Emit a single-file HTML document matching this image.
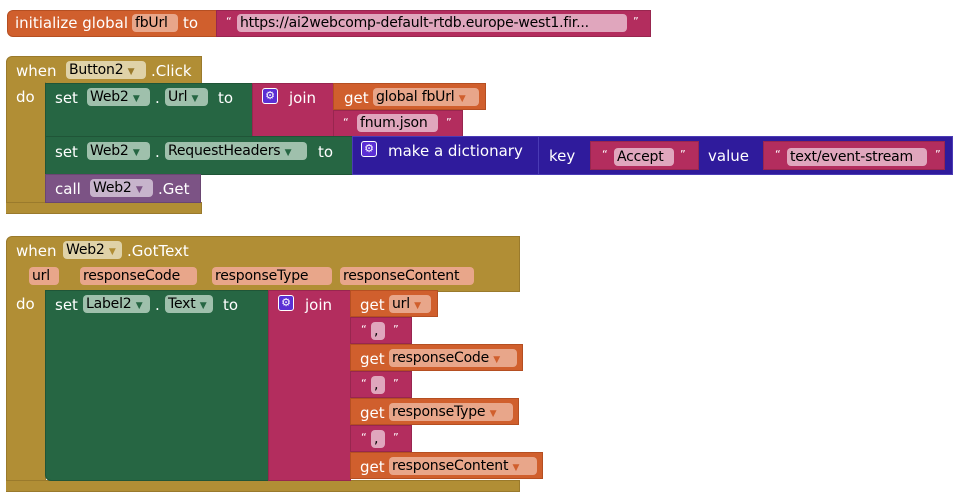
<!DOCTYPE html>
<html><head><meta charset="utf-8"><style>
body{margin:0;width:972px;height:503px;background:#fff;position:relative;overflow:hidden;font-family:"DejaVu Sans","Liberation Sans",sans-serif;font-size:15px;color:#fff}
.b{position:absolute;box-sizing:border-box}
.t{position:absolute;white-space:nowrap;line-height:16px}
.f{position:absolute;height:18px;line-height:18px;border-radius:4px;padding:0 3px;color:#000;white-space:nowrap;box-sizing:border-box;overflow:hidden;font-size:14px;letter-spacing:-0.2px}
.mu{background:#b18e35;border:1px solid #9a7a2c}
.gr{background:#266643;border:1px solid #1f5537}
.mg{background:#b32d5e;border:1px solid #98264f}
.or{background:#d05f2d;border:1px solid #b54f22}
.ind{background:#2f1b9c;border:1px solid #4a3bb5}
.pu{background:#7c5385;border:1px solid #6a4672}
.fo{background:#e8a68a}.fg{background:#9fc0ac}.fm{background:#e0a6bd}.fmu{background:#dfd2a8}
.fp{background:#c7b4cc}
.gear{position:absolute;width:16px;height:16px;background:#5b2fd4;border:1px solid #fff;border-radius:3px;box-sizing:border-box;color:#fff;font-size:11px;line-height:14px;text-align:center}
</style></head><body>
<!-- init global -->
<div class="b or" style="left:7px;top:10px;width:210px;height:27px;border-radius:6px 0 0 6px"></div>
<div class="t" style="left:15px;top:15px">initialize global</div>
<div class="f fo" style="left:132px;top:14px;width:46px">fbUrl</div>
<div class="t" style="left:183px;top:15px">to</div>
<div class="b mg" style="left:216px;top:10px;width:435px;height:27px"></div>
<div class="t" style="left:226px;top:14px;font-size:11px">“</div>
<div class="f fm" style="left:237px;top:14px;width:390px">https://ai2webcomp-default-rtdb.europe-west1.fir...</div>
<div class="t" style="left:633px;top:14px;font-size:11px">”</div>

<!-- Button2.Click -->
<div class="b mu" style="left:6px;top:56px;width:196px;height:28px;border-radius:6px 0 0 0"></div>
<div class="b mu" style="left:6px;top:82px;width:40px;height:132px;border-top:0;border-radius:0 0 0 6px"></div>
<div class="b mu" style="left:6px;top:202px;width:196px;height:12px;border-left:0"></div>
<div class="t" style="left:16px;top:63px">when</div>
<div class="f fmu" style="left:66px;top:61px;width:80px">Button2 <span style="color:#9a7a2c;font-size:9px">▼</span></div>
<div class="t" style="left:151px;top:63px">.Click</div>
<div class="t" style="left:16px;top:89px">do</div>

<div class="b gr" style="left:45px;top:83px;width:208px;height:54px"></div>
<div class="t" style="left:55px;top:90px">set</div>
<div class="f fg" style="left:87px;top:88px;width:63px">Web2 <span style="color:#266643;font-size:9px">▼</span></div>
<div class="t" style="left:155px;top:90px">.</div>
<div class="f fg" style="left:165px;top:88px;width:43px">Url <span style="color:#266643;font-size:9px">▼</span></div>
<div class="t" style="left:218px;top:90px">to</div>
<div class="b mg" style="left:252px;top:83px;width:82px;height:54px"></div>
<div class="gear" style="left:262px;top:88px">⚙</div>
<div class="t" style="left:289px;top:90px">join</div>
<div class="b or" style="left:333px;top:83px;width:153px;height:27px"></div>
<div class="t" style="left:344px;top:90px">get</div>
<div class="f fo" style="left:373px;top:88px;width:106px">global fbUrl <span style="color:#d05f2d;font-size:9px">▼</span></div>
<div class="b mg" style="left:333px;top:110px;width:130px;height:27px"></div>
<div class="t" style="left:343px;top:115px;font-size:11px">“</div>
<div class="f fm" style="left:357px;top:114px;width:81px">fnum.json</div>
<div class="t" style="left:446px;top:115px;font-size:11px">”</div>

<div class="b gr" style="left:45px;top:136px;width:308px;height:39px"></div>
<div class="t" style="left:55px;top:144px">set</div>
<div class="f fg" style="left:87px;top:142px;width:63px">Web2 <span style="color:#266643;font-size:9px">▼</span></div>
<div class="t" style="left:155px;top:144px">.</div>
<div class="f fg" style="left:165px;top:142px;width:142px">RequestHeaders <span style="color:#266643;font-size:9px">▼</span></div>
<div class="t" style="left:318px;top:144px">to</div>
<div class="b ind" style="left:352px;top:136px;width:187px;height:39px"></div>
<div class="gear" style="left:361px;top:141px">⚙</div>
<div class="t" style="left:388px;top:143px">make a dictionary</div>
<div class="b ind" style="left:538px;top:136px;width:415px;height:39px"></div>
<div class="t" style="left:549px;top:148px">key</div>
<div class="b mg" style="left:590px;top:141px;width:109px;height:29px"></div>
<div class="t" style="left:602px;top:147px;font-size:11px">“</div>
<div class="f fm" style="left:614px;top:148px;width:60px">Accept</div>
<div class="t" style="left:680px;top:147px;font-size:11px">”</div>
<div class="t" style="left:708px;top:148px">value</div>
<div class="b mg" style="left:763px;top:141px;width:182px;height:29px"></div>
<div class="t" style="left:775px;top:147px;font-size:11px">“</div>
<div class="f fm" style="left:787px;top:148px;width:140px">text/event-stream</div>
<div class="t" style="left:935px;top:147px;font-size:11px">”</div>

<div class="b pu" style="left:45px;top:174px;width:156px;height:29px"></div>
<div class="t" style="left:55px;top:181px">call</div>
<div class="f fp" style="left:90px;top:179px;width:63px">Web2 <span style="color:#7c5385;font-size:9px">▼</span></div>
<div class="t" style="left:158px;top:181px">.Get</div>

<!-- Web2.GotText -->
<div class="b mu" style="left:6px;top:236px;width:514px;height:56px;border-radius:6px 0 0 0"></div>
<div class="b mu" style="left:6px;top:290px;width:40px;height:202px;border-top:0;border-radius:0 0 0 6px"></div>
<div class="b mu" style="left:6px;top:480px;width:514px;height:12px;border-left:0"></div>
<div class="t" style="left:16px;top:243px">when</div>
<div class="f fmu" style="left:63px;top:241px;width:59px">Web2 <span style="color:#b18e35;font-size:9px">▼</span></div>
<div class="t" style="left:127px;top:243px">.GotText</div>
<div class="f fo" style="left:29px;top:267px;width:30px">url</div>
<div class="f fo" style="left:80px;top:267px;width:117px">responseCode</div>
<div class="f fo" style="left:212px;top:267px;width:120px">responseType</div>
<div class="f fo" style="left:340px;top:267px;width:134px">responseContent</div>
<div class="t" style="left:16px;top:296px">do</div>

<div class="b gr" style="left:45px;top:290px;width:224px;height:191px;border-radius:0 0 0 6px"></div>
<div class="t" style="left:55px;top:297px">set</div>
<div class="f fg" style="left:83px;top:295px;width:67px">Label2 <span style="color:#266643;font-size:9px">▼</span></div>
<div class="t" style="left:155px;top:297px">.</div>
<div class="f fg" style="left:165px;top:295px;width:48px">Text <span style="color:#266643;font-size:9px">▼</span></div>
<div class="t" style="left:223px;top:297px">to</div>
<div class="b mg" style="left:268px;top:290px;width:83px;height:191px"></div>
<div class="gear" style="left:278px;top:295px">⚙</div>
<div class="t" style="left:305px;top:297px">join</div>

<div class="b or" style="left:350px;top:290px;width:88px;height:27px"></div>
<div class="t" style="left:360px;top:297px">get</div>
<div class="f fo" style="left:389px;top:295px;width:42px">url <span style="color:#d05f2d;font-size:9px">▼</span></div>
<div class="b mg" style="left:350px;top:317px;width:62px;height:27px"></div>
<div class="t" style="left:361px;top:322px;font-size:11px">“</div>
<div class="f fm" style="left:371px;top:322px;width:14px;padding:0 3px">,</div>
<div class="t" style="left:393px;top:322px;font-size:11px">”</div>
<div class="b or" style="left:350px;top:344px;width:173px;height:27px"></div>
<div class="t" style="left:360px;top:351px">get</div>
<div class="f fo" style="left:389px;top:349px;width:128px">responseCode <span style="color:#d05f2d;font-size:9px">▼</span></div>
<div class="b mg" style="left:350px;top:371px;width:62px;height:27px"></div>
<div class="t" style="left:361px;top:376px;font-size:11px">“</div>
<div class="f fm" style="left:371px;top:376px;width:14px;padding:0 3px">,</div>
<div class="t" style="left:393px;top:376px;font-size:11px">”</div>
<div class="b or" style="left:350px;top:398px;width:169px;height:27px"></div>
<div class="t" style="left:360px;top:405px">get</div>
<div class="f fo" style="left:389px;top:403px;width:124px">responseType <span style="color:#d05f2d;font-size:9px">▼</span></div>
<div class="b mg" style="left:350px;top:425px;width:62px;height:27px"></div>
<div class="t" style="left:361px;top:430px;font-size:11px">“</div>
<div class="f fm" style="left:371px;top:430px;width:14px;padding:0 3px">,</div>
<div class="t" style="left:393px;top:430px;font-size:11px">”</div>
<div class="b or" style="left:350px;top:452px;width:193px;height:27px"></div>
<div class="t" style="left:360px;top:459px">get</div>
<div class="f fo" style="left:389px;top:457px;width:148px">responseContent <span style="color:#d05f2d;font-size:9px">▼</span></div>
</body></html>
